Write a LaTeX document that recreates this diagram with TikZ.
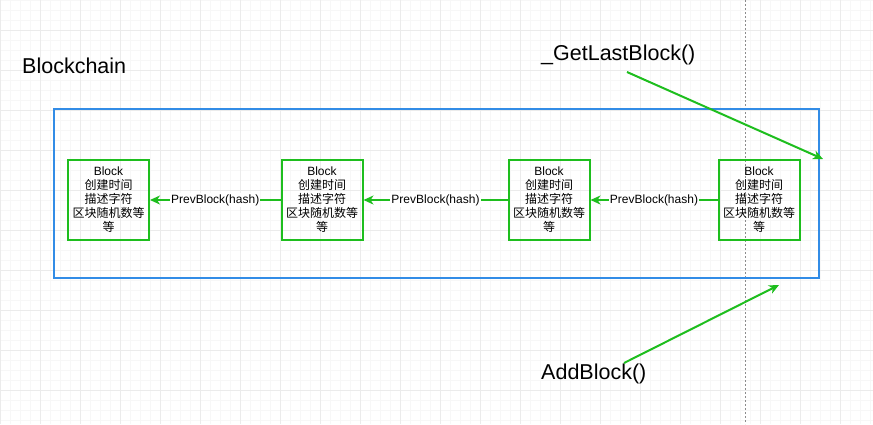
\documentclass[tikz,border=0pt]{standalone}
\usepackage{fontspec}
\setmainfont{Liberation Sans}
\newfontfamily\cjk{Noto Sans CJK SC}
\usetikzlibrary{arrows.meta}
\definecolor{gcol}{RGB}{30,190,30}
\definecolor{bcol}{RGB}{50,140,230}
\tikzset{
  blk/.style={draw=gcol, line width=2pt, minimum width=81pt, minimum height=80pt, inner sep=0pt,
    align=center, font=\fontsize{12}{14}\selectfont},
  conn/.style={draw=gcol, line width=2pt, -{Stealth[length=10pt,width=9pt,inset=3pt]}},
  lbl/.style={fill=white, inner sep=1pt, font=\fontsize{12}{13}\selectfont},
  big/.style={font=\fontsize{21.5}{24}\selectfont, anchor=west, inner sep=0pt},
}
\begin{document}
\begin{tikzpicture}[x=1pt,y=-1pt]
\useasboundingbox (0,0) rectangle (873,424);
\fill[white] (0,0) rectangle (873,424);
% grid
\foreach \x in {0,10,...,870} \draw[black!3, line width=0.6pt] (\x,0) -- (\x,424);
\foreach \y in {0,10,...,420} \draw[black!3, line width=0.6pt] (0,\y) -- (873,\y);
\foreach \x in {0,40,...,870} \draw[black!8, line width=0.8pt] (\x,0) -- (\x,424);
\foreach \y in {30,70,...,420} \draw[black!8, line width=0.8pt] (0,\y) -- (873,\y);
\draw[black!45, line width=0.7pt, dash pattern=on 2pt off 2pt] (745,0) -- (745,424);
% container
\node[draw=bcol, line width=2pt, minimum width=765pt, minimum height=169pt, inner sep=0pt] (chain) at (436.5,193.5) {};
\node[big] (title) at (22,66) {Blockchain};
% blocks
\node[blk] (b1) at (108.5,200) {Block\\{\cjk 创建时间}\\{\cjk 描述字符}\\{\cjk 区块随机数等}\\{\cjk 等}};
\node[blk] (b2) at (322,200) {Block\\{\cjk 创建时间}\\{\cjk 描述字符}\\{\cjk 区块随机数等}\\{\cjk 等}};
\node[blk] (b3) at (549,200) {Block\\{\cjk 创建时间}\\{\cjk 描述字符}\\{\cjk 区块随机数等}\\{\cjk 等}};
\node[blk] (b4) at (759,200) {Block\\{\cjk 创建时间}\\{\cjk 描述字符}\\{\cjk 区块随机数等}\\{\cjk 等}};
\draw[conn] (b2.west) -- node[lbl] {PrevBlock(hash)} (b1.east);
\draw[conn] (b3.west) -- node[lbl] {PrevBlock(hash)} (b2.east);
\draw[conn] (b4.west) -- node[lbl] {PrevBlock(hash)} (b3.east);
% methods
\node[big] (get) at (541,55) {\_GetLastBlock()};
\node[big] (add) at (541,374) {AddBlock()};
\coordinate (gs) at (627,72);
\coordinate (ge) at (823,159);
\coordinate (as) at (624,363);
\coordinate (ae) at (779,285);
\draw[conn] (gs) -- (ge);
\draw[conn] (as) -- (ae);
\end{tikzpicture}
\end{document}
